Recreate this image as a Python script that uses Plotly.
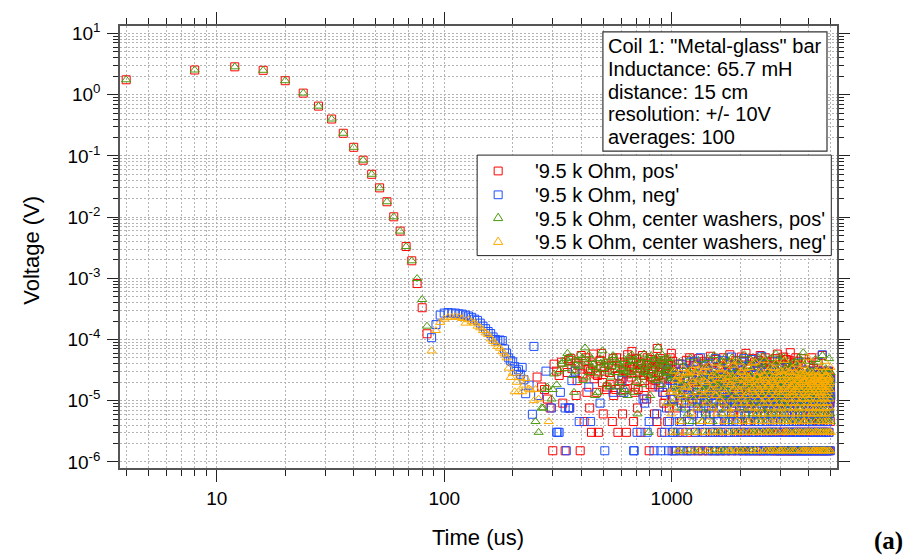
import plotly.graph_objects as go

# ---------------------------------------------------------------------------
# Data
# ---------------------------------------------------------------------------
# Positive-polarity runs: main decay, sampled every 4 us (t = 4 ... 84 us)
T_DECAY = [4, 8, 12, 16, 20, 24, 28, 32, 36, 40, 44, 48, 52, 56, 60, 64, 68,
           72, 76, 80, 84]
RED_DECAY = [1.75, 2.53, 2.85, 2.5, 1.69, 1.06, 0.65, 0.40, 0.234, 0.138,
             0.085, 0.050, 0.030, 0.0178, 0.0101, 0.0059, 0.0033, 0.00193,
             8.2e-4, 3.3e-4, 1.24e-4]
GREEN_DECAY = [1.75, 2.53, 2.85, 2.5, 1.69, 1.06, 0.65, 0.40, 0.234, 0.138,
               0.085, 0.050, 0.030, 0.0178, 0.0101, 0.0059, 0.0033, 0.00193,
               9.9e-4, 4.5e-4, 1.65e-4]

# Negative-polarity runs: secondary bump (t = 88 ... 248 us); None = value <= 0
T_BUMP = [88, 92, 96, 100, 104, 108, 112, 116, 120, 124, 128, 132, 136, 140,
          144, 148, 152, 156, 160, 164, 168, 172, 176, 180, 184, 188, 192, 196,
          200, 204, 208, 212, 216, 220, 224, 228, 232, 236, 240, 244, 248]
BLUE_BUMP = [1.07e-4, 1.75e-4, 2.5e-4, 2.7e-4, 2.75e-4, 2.7e-4, 2.7e-4,
             2.62e-4, 2.6e-4, 2.5e-4, 2.42e-4, 2.3e-4, 2.15e-4, 2.05e-4,
             1.85e-4, 1.65e-4, 1.5e-4, 1.35e-4, 1.25e-4, 1.1e-4, 1.0e-4,
             9.5e-5, 9.8e-5, 9.6e-5, 7.0e-5, 6.0e-5, 5.0e-5, 4.5e-5, 4.3e-5,
             3.6e-5, 3.0e-5, 3.2e-5, 2.7e-5, 3.5e-5, 2.2e-5, 1.3e-5, None,
             1.8e-5, None, 6e-6, 7.7e-5]
ORANGE_BUMP = [6.5e-5, 1.4e-4, 1.9e-4, 2.15e-4, 2.3e-4, 2.3e-4, 2.35e-4,
               2.3e-4, 2.2e-4, 1.85e-4, 2.1e-4, 1.95e-4, 1.85e-4, 1.65e-4,
               1.55e-4, 1.4e-4, 1.28e-4, 1.2e-4, 1.02e-4, 9.3e-5, 8.5e-5,
               7.7e-5, 7.2e-5, 6.3e-5, 5.8e-5, 5.0e-5, 3.4e-5, 2.4e-5, 2.8e-5,
               1.4e-5, 2.0e-5, 1.4e-5, 2.4e-5, 1.4e-5, 1.8e-5, 2.3e-5, None,
               1.55e-5, 1.5e-5, None, 1.0e-5]

# Noise floor, stored as digitizer counts (1 count = LSB volts).
# One character per sample: 1-9, a-z (10-35), A-Z (36-61); '-' = sample <= 0.
LSB = 1.52e-6
T_END = 5000
EARLY_START, EARLY_STEP = 252, 4      # 252 ... ~1000 us
LATE_START, LATE_STEP = 1008, 8       # 1008 ... 5000 us

RED_EARLY = [
    "-g--b-a-7- 5-1q-k-h-s 6-1-ju5wm- -r8ep-1Aig 3tx9lm5k2q",
    "Cf-i9h2-uo Dd4nk-ab-r jc-p3w8-ma x-2hcs-9f4 lq-ak2iBe-",
    "o-tgGr-3n9 b-wj5as-km 2q-A-h8el- p7x-ri1-cg -vmb-kt4co",
    "e-3Ls-hj-q wd-2n9-g6u -8ki-rb3-p m5-xf-Dj-t",
]
RED_LATE = [
    "7k1c-5h2qe 9-3qa1mf6u 2-b8xj14g7 s-d2pa61wh 3-ec91r5t2",
    "ia-7m1fb4z 8-c2s6k1g9 v-3e2b5oh1 d-82xgc6je 1-r7a3qe9B",
    "2h-51l8f4n 6c-u29i3p7 e1-ka4gy2b i-c15t8h2D 6-f39m1d5q",
    "e3-ja82we6 1-ksc7b2oh 4-1f9u3g5c A-1h82e7ra 1-m4g9xd6j",
    "2s-b83ke57 t-2c1i69bp 3-e2h5l1f8 w-a42j61Cc 5-g2n9e17u",
    "a3-h6b1q8d 2-y4c1k7f2 3-ev61a9h2 o-71c5sb2E 8-g1k4d6m1",
    "f-72r9b4i1 e-6x3c2h81 p-5at2g6cj 3-8he5a1w9 2-d7f4k1b6",
    "c-e3g8a2s5 1-h7b4d9k2 e-6c1r8f3a 5-j2h9e4b1 x-7c3g6a2m",
    "-1e5b8h2d7 c-4k9a3f6e 1-g2s8c5h7 -b3e9a1j4d 6-2f8c5A1h",
    "k-3b7e2a9c 4-1h6f8d2g 5-c9e3b7a1 -j4h2k8e6c 1-5d9g3b7f",
    "2-e6a1h8c4 -9b3f7d2k5 1-c8e4g6a3",
]

GREEN_EARLY = [
    "3-2-55a-b- -7ai-c-k-q t-mwD-ry-h 9kp-uAo-xe -Mg-sBj-vn",
    "q-8l-9i-wr -Hm-tpc-ks b-go-Ax-ju -rb-dp-m9i l-vak-s8-y",
    "-oj-Bt-h9- ud-n4-xl-r -gc-k-Cp-j s-wi-2-o8- Am-f-vh-q-",
    "e-y-kN-r-l -tc-Bi-u-g p-x-j6-mo- -wf-s-ak-h",
]
GREEN_LATE = [
    "6-gk2a9c1s 8e53hc71ob -4-2ix8f3m 1-6d9j28ub 1-5eh39cq7",
    "a4g-2w6b1k 8e-3d5A1h9 2fc6r18j2b -e4t71ga-y 5c1-i3e8p2",
    "h16bx4f9-2 m1c7j3u-2g a6-1s5d8e3 1k9b2B7h4- c1fo6j3e9-",
    "a5v2h71cg4 n-82d16br3 e-4f1x82ic 6h9-3qa5e7 z2bg4l-91d",
    "5s3ha82kc6 4-w29-1f7j 3b1g4p6ce2 9-1C53ha7t 2d84b1m-e7",
    "1u9c3h6ka4 f5y81g3b6j 2e-1c5h2p8 -3e8q1k6a4 -b7f2g9d1r",
    "e3h-5c8a2s 7-g1e9b4k3 -d6c2x8f1h 5-j3e7a9u2 -g4c6b1E8e",
    "2-h9a5f3l7 -c1e6g8b4t -2d9k3e7a1 h-5c8f2j6o -3e9b4g1a7",
    "c-1h6e3b8v 2-a9g4d7f1 -e5c2k8h3s -6b1e9a4g2 -j7c3f5d1A",
    "8-e2h6b4c9 -a1g7f3e5m -2c8d4k6h1 -9e3b7a2fw -5g1c8e4j3",
    "6-h2e9a5c1 -b4g8d3f7 -e2k6c9a4",
]

BLUE_EARLY = [
    "--8----k-- -5---2229- --51-55-e- -k---3---- -----b-3--",
    "--------6- ----1----- -----9---- --------e- -9--------",
    "-------11- ---2------ ----7--6-- --2---3--- ------1---",
    "--4----b-- -1----9--2 ----5--l-1 -3-e--7-12",
]
BLUE_LATE = [
    "c27h14-9e3 q16b2ma-5j 18f3s1c6-e 49t2h7b51g 3x8c2ek6a-",
    "4o9f1c53r2 8h-16j4b2w 71e9d3g-1l 5c2u84a3e- 1i6b9h2n3k",
    "7d1y5c-3e8 2h6a9f1-m4 b3k7e2g-5s 1c8w6d4-19 ae2j5h3p-1",
    "-6e2v8c1b4 9a3h7-f2k5 1d6o3b9e-2 g4c81z5h3- a7j2e6d1q9",
    "c3-1h5a8e2 6g9b1-4k7d 2f3c-e5m81 9a6h2j4-bt 3e7-1c8g5d",
    "1-4f9c2b6h 8-e3a71k5d 2g-9c4n61e 7h3b-2f5a8 1c-6j9e4d2",
    "a5-3g1e8c2 7h4b-9d1f6 3k-2e7a5c1 g9-4h1b6s2 8e3-c5f1d7",
    "-2c6a1e9h4 5b-8d3g1k7 2e5-c6a9f1 4i3h-7b2e8 1d6c-5a3j9",
    "e8-1c4b7h2 9a5f-3e6d1 k7c2-g5a9b 1h4e-8c3f6 2d9a-1e7B5",
    "4-c8e2a6h1 b5d-9f3c7e 2g1-a8h4k6 3e5c-1b9d2 7f4a-6c1e8",
    "1-h5c9e2a7 3b-6d8f1g4 c2-e7a5h9",
]

ORANGE_EARLY = [
    "a-7------3 ---------- ---------- ---------- ----------",
    "---------- ---------- ---------- ---------- ----------",
    "---------- ---------- ---------- ---------- ----------",
    "---------- ---------- -----6---- --9---4-2-",
]
ORANGE_LATE = [
    "5ak-e7g1h9 3c-8fm2b6j -bi19k-4ed 7j2p-5cl1f 9g-3ak8e2n",
    "d6-1j3o9ea -e2h5c1-8r 8h4b-2mf7l 1-f6aq3-9e 2i-5d4gk1c",
    "-1c7t4g2pa 5b8-1e3h6s a29f-1kj4c 72-e6m1b-8 h3-d9g5n2f",
    "61h3d-a9r2 b5e-1s84cg -2g71j5a3e 9-ck4f8b2- 6h1u3e-a7d",
    "-2f61bk4c8 2h-1n59e3a 1-7gd2m64- 1cb8r3-f5j 2e9-a6h1k4",
    "c81k5-3e29 a1h64u-b2l 71f3c92e-g 5a-d7j2k84 1-e6b3hm9c",
    "-51g83j26c 1a4e72-hqb 9-5e3b2f8a -l6c1-4i2d 7g5k1-8e3p",
    "1d73i-2e59 1c8b-42gk 1x6a-73h2e 9-5b1fd4c- 6j2a8e-1h5",
    "-41c96f2b8 1-3k5e2ag 17-g4h29c1 e-5d8a3j6- 2n1f7b-c4e",
    "82e51-b63j 91a4t2-d7h 1-5c3h8ga2 6-e9b4k1f3 -c2g7a5d1n",
    "-2g61c93e1 a-5h27k1d4 8-f3b6e2j9",
]

SERIES_NAMES = ["'9.5 k Ohm, pos'", "'9.5 k Ohm, neg'",
                "'9.5 k Ohm, center washers, pos'",
                "'9.5 k Ohm, center washers, neg'"]
SERIES_COLORS = ["#ff0000", "#1f4fff", "#4a9a0c", "#ffaa00"]
SERIES_SYMBOLS = ["square-open", "square-open",
                  "triangle-up-open", "triangle-up-open"]

INFO_LINES = ['Coil 1: "Metal-glass" bar', "Inductance: 65.7 mH",
              "distance: 15 cm", "resolution: +/- 10V", "averages: 100"]

X_TICKS = [10, 100, 1000]
X_MINOR = [4, 5, 6, 7, 8, 9, 20, 30, 40, 50, 60, 70, 80, 90,
           200, 300, 400, 500, 600, 700, 800, 900, 2000, 3000, 4000, 5000]
Y_EXPONENTS = [-6, -5, -4, -3, -2, -1, 0, 1]

# ---------------------------------------------------------------------------
DIGITS = "0123456789abcdefghijklmnopqrstuvwxyzABCDEFGHIJKLMNOPQRSTUVWXYZ"


def decode_counts(rows, start, step):
    """Turn a count string into (time, volts); non-positive samples -> None."""
    chars = "".join(rows).replace(" ", "")
    times, volts = [], []
    for i, ch in enumerate(chars):
        t = start + step * i
        if t > T_END:
            break
        times.append(t)
        k = 0 if ch == "-" else DIGITS.index(ch)
        volts.append(k * LSB if k > 0 else None)
    return times, volts


def assemble(head_t, head_v, early, late):
    te, ve = decode_counts(early, EARLY_START, EARLY_STEP)
    tl, vl = decode_counts(late, LATE_START, LATE_STEP)
    return head_t + te + tl, head_v + ve + vl


series = [
    assemble(T_DECAY, RED_DECAY, RED_EARLY, RED_LATE),
    assemble(T_BUMP, BLUE_BUMP, BLUE_EARLY, BLUE_LATE),
    assemble(T_DECAY, GREEN_DECAY, GREEN_EARLY, GREEN_LATE),
    assemble(T_BUMP, ORANGE_BUMP, ORANGE_EARLY, ORANGE_LATE),
]

MARKER_SIZE = 8
fig = go.Figure()
for (t, v), name, color, sym in zip(series, SERIES_NAMES, SERIES_COLORS,
                                    SERIES_SYMBOLS):
    fig.add_trace(go.Scatter(
        x=t, y=v, mode="markers", name=name, showlegend=False,
        marker=dict(symbol=sym, size=MARKER_SIZE, color=color,
                    line=dict(color=color, width=1)),
    ))

FONT = "Liberation Sans, Arial, sans-serif"
GRID = dict(showgrid=True, gridcolor="#b4b4b4", griddash="2px,2px",
            gridwidth=1)
AX_COMMON = dict(type="log", ticks="outside", tickcolor="#222222",
                 tickwidth=1, showline=True, linecolor="#555555",
                 linewidth=1.5, mirror="ticks", zeroline=False,
                 tickfont=dict(family=FONT, size=19, color="black"), **GRID)

fig.update_xaxes(
    range=[0.5748, 3.7265], tickvals=X_TICKS,
    ticktext=[str(v) for v in X_TICKS], ticklen=12,
    minor=dict(tickvals=X_MINOR, ticks="outside", ticklen=6,
               tickcolor="#222222", **GRID),
    **AX_COMMON)

y_minor = [m * 10.0 ** e for e in Y_EXPONENTS[:-1] for m in range(2, 10)]
fig.update_yaxes(
    range=[-6.1, 1.122], tickvals=[10.0 ** e for e in Y_EXPONENTS],
    ticktext=["10<sup>%d</sup>" % e for e in Y_EXPONENTS], ticklen=11,
    ticklabelstandoff=3,
    minor=dict(tickvals=y_minor, ticks="outside", ticklen=5,
               tickcolor="#222222", **GRID),
    **AX_COMMON)

# plot-area geometry in pixels (for placing the text boxes)
W, H = 919, 560
L, R, T, B = 120, 82.3, 14, 91.7
PW, PH = W - L - R, H - T - B


def px(x):
    return (x - L) / PW


def py(y):
    return (H - B - y) / PH


TEXT_FONT = dict(family=FONT, size=20, color="black")
annotations = []
shapes = []

# information box
shapes.append(dict(type="rect", xref="paper", yref="paper",
                   x0=px(602.7), x1=px(826.7), y0=py(142.7), y1=py(20),
                   line=dict(color="#333333", width=1.2),
                   fillcolor="white", layer="above"))
for i, line in enumerate(INFO_LINES):
    annotations.append(dict(
        x=px(606), y=py(35 + 23.3 * i), xref="paper", yref="paper",
        xanchor="left", yanchor="middle", showarrow=False, text=line,
        font=TEXT_FONT))

# legend box with one sample glyph per series
shapes.append(dict(type="rect", xref="paper", yref="paper",
                   x0=px(477), x1=px(831), y0=py(250), y1=py(146.7),
                   line=dict(color="#222222", width=1),
                   fillcolor="white", layer="above"))
GLYPH_X = 498
half = MARKER_SIZE / 2
for i, (name, color, sym) in enumerate(zip(SERIES_NAMES, SERIES_COLORS,
                                           SERIES_SYMBOLS)):
    cy = 163 + 24.5 * i
    if sym.startswith("square"):
        shapes.append(dict(type="rect", xref="paper", yref="paper",
                           x0=px(GLYPH_X - half), x1=px(GLYPH_X + half),
                           y0=py(cy + half), y1=py(cy - half),
                           line=dict(color=color, width=1), layer="above"))
    else:
        tw = MARKER_SIZE * 0.577
        path = "M %f,%f L %f,%f L %f,%f Z" % (
            px(GLYPH_X - tw), py(cy + MARKER_SIZE * 0.25),
            px(GLYPH_X + tw), py(cy + MARKER_SIZE * 0.25),
            px(GLYPH_X), py(cy - MARKER_SIZE * 0.707))
        shapes.append(dict(type="path", xref="paper", yref="paper",
                           path=path, line=dict(color=color, width=1),
                           layer="above"))
    annotations.append(dict(
        x=px(533), y=py(cy), xref="paper", yref="paper", xanchor="left",
        yanchor="middle", showarrow=False, text=name, font=TEXT_FONT))

annotations += [
    dict(x=px(32), y=py(244), xref="paper", yref="paper", text="Voltage (V)",
         textangle=-90, showarrow=False, xanchor="center", yanchor="middle",
         font=dict(family=FONT, size=22, color="black")),
    dict(x=px(478), y=py(540), xref="paper", yref="paper", text="Time (us)",
         showarrow=False, xanchor="center", yanchor="middle",
         font=dict(family=FONT, size=22, color="black")),
    dict(x=px(888), y=py(543), xref="paper", yref="paper", text="<b>(a)</b>",
         showarrow=False, xanchor="center", yanchor="middle",
         font=dict(family="Liberation Serif, Times New Roman, serif",
                   size=25, color="black")),
]

fig.update_layout(
    width=W, height=H,
    margin=dict(l=L, r=R, t=T, b=B, pad=0),
    paper_bgcolor="white", plot_bgcolor="white",
    showlegend=False,
    shapes=shapes,
    annotations=annotations,
)

fig.write_html("out.html")
